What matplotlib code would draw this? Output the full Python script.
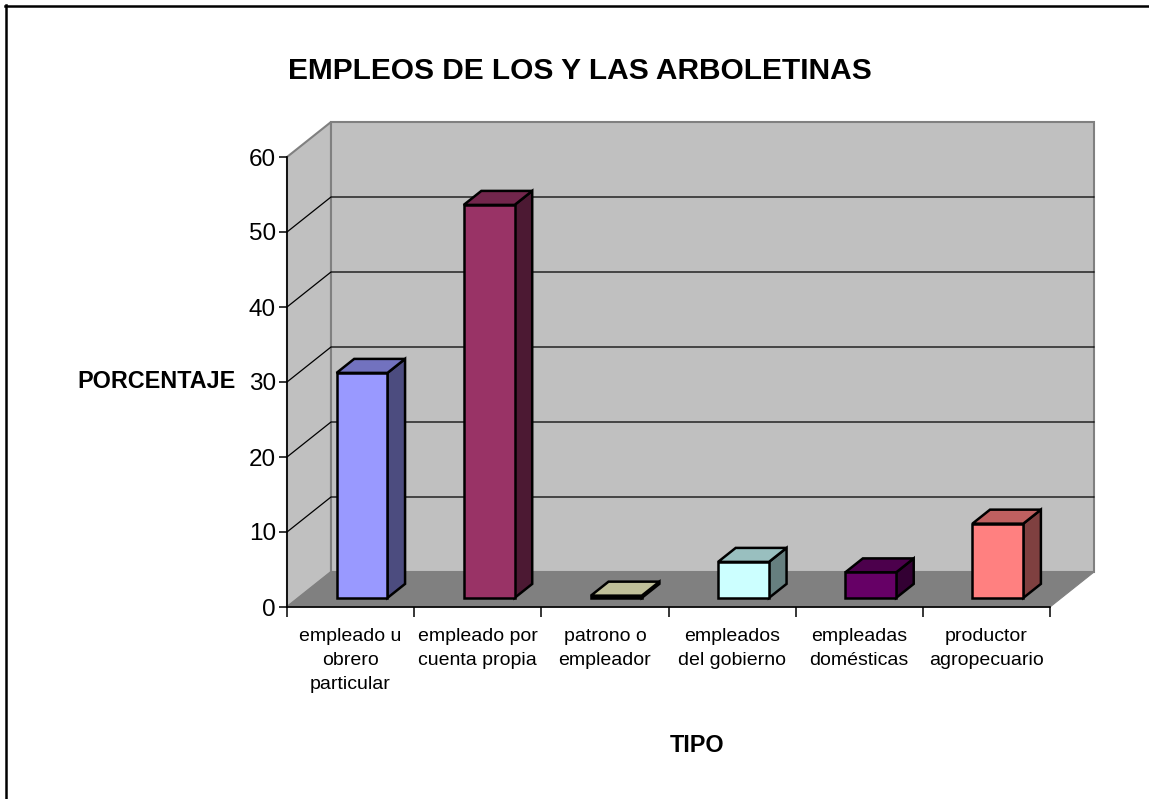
import matplotlib
matplotlib.use('Agg')
import matplotlib.pyplot as plt
from matplotlib.patches import Polygon
from matplotlib.lines import Line2D

# ---- data ----
categories = ["empleado u\nobrero\nparticular", "empleado por\ncuenta propia",
              "patrono o\nempleador", "empleados\ndel gobierno",
              "empleadas\ndomésticas", "productor\nagropecuario"]
values = [30, 52.4, 0.3, 4.8, 3.4, 9.9]
yticks = [0, 10, 20, 30, 40, 50, 60]
bar_colors = ['#9999FF', '#993366', '#FFFFCC', '#CCFFFF', '#660066', '#FF8080']
title = "EMPLEOS DE LOS Y LAS ARBOLETINAS"
ylabel = "PORCENTAJE"
xlabel = "TIPO"

plt.rcParams['font.family'] = ['Liberation Sans', 'DejaVu Sans']

W, H = 1149, 799
fig = plt.figure(figsize=(W / 100, H / 100), dpi=100)
fig.patch.set_facecolor('white')

# axes placed so that front plane matches reference
x0p, x1p, y0p, y1p = 287, 1050, 607, 157
ax = fig.add_axes([x0p / W, 1 - y0p / H, (x1p - x0p) / W, (y0p - y1p) / H])
n = len(categories)
ax.set_xlim(0, n)
ax.set_ylim(0, 60)
ax.set_facecolor('none')

DX = 44 / ((x1p - x0p) / n)      # depth offset in category units
DY = 35 / ((y0p - y1p) / 60)     # depth offset in value units


def P(x, v, d):
    return (x + d * DX, v + d * DY)


def shade(c, f):
    c = c.lstrip('#')
    r, g, b = (int(c[i:i + 2], 16) for i in (0, 2, 4))
    return '#%02x%02x%02x' % (int(r * f), int(g * f), int(b * f))


ymax = yticks[-1]
# side wall
ax.add_patch(Polygon([P(0, 0, 0), P(0, 0, 1), P(0, ymax, 1), P(0, ymax, 0)],
                     closed=True, facecolor='#C0C0C0', edgecolor='#808080',
                     lw=1.5, clip_on=False, zorder=1))
# back wall
ax.add_patch(Polygon([P(0, 0, 1), P(n, 0, 1), P(n, ymax, 1), P(0, ymax, 1)],
                     closed=True, facecolor='#C0C0C0', edgecolor='#808080',
                     lw=1.5, clip_on=False, zorder=1))
# floor
ax.add_patch(Polygon([P(0, 0, 0), P(n, 0, 0), P(n, 0, 1), P(0, 0, 1)],
                     closed=True, facecolor='#808080', edgecolor='#808080',
                     lw=0.8, clip_on=False, zorder=1.1))
# gridlines
for t in yticks[1:-1]:
    xs, ys = zip(P(0, t, 0), P(0, t, 1), P(n, t, 1))
    ax.add_line(Line2D(xs, ys, color='black', lw=0.9, clip_on=False, zorder=1.2))

# bars
w = 0.4
d0, d1 = 0.26, 0.66
for i, (v, c) in enumerate(zip(values, bar_colors)):
    a, b = i + 0.5 - w / 2, i + 0.5 + w / 2
    kw = dict(closed=True, edgecolor='black', lw=1.8, joinstyle='miter',
              clip_on=False, zorder=3)
    ax.add_patch(Polygon([P(b, 0, d0), P(b, 0, d1), P(b, v, d1), P(b, v, d0)],
                         facecolor=shade(c, 0.5), **kw))
    ax.add_patch(Polygon([P(a, v, d0), P(b, v, d0), P(b, v, d1), P(a, v, d1)],
                         facecolor=shade(c, 0.75), **kw))
    ax.add_patch(Polygon([P(a, 0, d0), P(b, 0, d0), P(b, v, d0), P(a, v, d0)],
                         facecolor=c, **kw))

# axes / spines
for s in ['top', 'right']:
    ax.spines[s].set_visible(False)
for s in ['left', 'bottom']:
    ax.spines[s].set_color('black')
    ax.spines[s].set_linewidth(1.2)
    ax.spines[s].set_zorder(4)

ax.set_yticks(yticks)
ax.set_yticklabels([str(t) for t in yticks])
ax.tick_params(axis='y', length=6, width=1.1, pad=2, labelsize=17.5, colors='black')

ax.set_xticks(range(n + 1))
ax.set_xticklabels([''] * (n + 1))
ax.tick_params(axis='x', which='major', length=7.5, width=1.1, color='black')
ax.set_xticks([i + 0.5 for i in range(n)], minor=True)
ax.set_xticklabels(categories, minor=True, fontsize=14, linespacing=1.55)
ax.tick_params(axis='x', which='minor', length=0, pad=15)

# titles
fig.text(580 / W, 1 - 71 / H, title, ha='center', va='center',
         fontsize=21.5, fontweight='bold')
fig.text(236 / W, 1 - 381 / H, ylabel, ha='right', va='center',
         fontsize=16.8, fontweight='bold')
fig.text(697 / W, 1 - 746 / H, xlabel, ha='center', va='center',
         fontsize=16.8, fontweight='bold')

# outer frame (extends past right/bottom edges)
fig.add_artist(Line2D([5 / W, 1.01], [1 - 5.5 / H, 1 - 5.5 / H], color='black',
                      lw=1.8, transform=fig.transFigure))
fig.add_artist(Line2D([5.5 / W, 5.5 / W], [1 - 5 / H, -0.01], color='black',
                      lw=1.8, transform=fig.transFigure))

fig.savefig('out.png', dpi=100, facecolor='white')
